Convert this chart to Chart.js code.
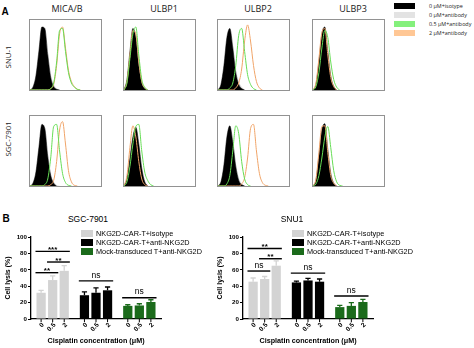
<!DOCTYPE html>
<html>
<head>
<meta charset="utf-8">
<script src="https://cdn.jsdelivr.net/npm/chart.js@4.4.1/dist/chart.umd.min.js"></script>
<style>
  body { margin: 0; background: #fff; }
  #fig { position: relative; width: 474px; height: 348px; overflow: hidden; background: #fff;
         font-family: "Liberation Sans", Arial, sans-serif; color: #000; }
  .t { position: absolute; white-space: nowrap; transform: translate(-50%, -50%); line-height: 1; }
  .rot { transform: translate(-50%, -50%) rotate(-90deg); }
  .box { position: absolute; border: 1px solid #929292; box-sizing: border-box; }
  .box canvas { display: block; }
  .sw { position: absolute; }
  .lg { position: absolute; white-space: nowrap; line-height: 1; transform: translateY(-50%); }
</style>
</head>
<body>
<div id="fig"></div>
<script>
// ---- panel A: flow histograms (height in % of box, one value per bin) ----
const markers = ['MICA/B', 'ULBP1', 'ULBP2', 'ULBP3'];
const cellLines = ['SNU-1', 'SGC-7901'];
const histLabels = ['0 \u03BCM+isotype', '0 \u03BCM+antibody', '0.5 \u03BCM+antibody', '2 \u03BCM+antibody'];
const bins = Array.from({ length: 25 }, (_, i) => i);

// each: [isotype, 0 uM antibody, 0.5 uM antibody, 2 uM antibody]
const snuMICAB = [
  [0, 4, 20, 55, 90, 88, 50, 18, 5, 1, 0],
  [0, 5, 22, 58, 88, 86, 55, 22, 8, 2, 0],
  [0, 0, 0, 0, 0, 0, 0, 2, 10, 40, 85, 88, 55, 25, 10, 4, 1, 0],
  [0, 0, 0, 0, 0, 0, 0, 2, 8, 35, 80, 90, 60, 28, 12, 5, 1, 0]
];
const snuULBP1 = [
  [0, 15, 55, 88, 75, 35, 10, 2, 0],
  [0, 15, 52, 85, 78, 40, 12, 3, 0],
  [0, 10, 45, 80, 90, 50, 15, 4, 0],
  [0, 12, 50, 85, 80, 40, 12, 3, 0]
];
const snuULBP2 = [
  [0, 8, 35, 75, 88, 60, 25, 8, 2, 0],
  [0, 8, 32, 70, 86, 65, 30, 12, 4, 0],
  [0, 0, 0, 0, 3, 10, 35, 78, 88, 55, 22, 8, 2, 0],
  [0, 0, 0, 0, 0, 0, 3, 10, 30, 70, 93, 70, 35, 12, 3, 0]
];
const snuULBP3 = [
  [0, 8, 40, 80, 90, 55, 20, 5, 0],
  [0, 8, 38, 78, 88, 58, 22, 6, 0],
  [0, 5, 25, 60, 85, 75, 40, 15, 4, 0],
  [0, 10, 45, 82, 88, 50, 18, 5, 0]
];
const sgcMICAB = [
  [0, 4, 20, 55, 88, 82, 42, 15, 4, 0],
  [0, 4, 18, 52, 85, 84, 48, 18, 6, 1, 0],
  [0, 0, 0, 0, 0, 2, 10, 40, 85, 88, 50, 18, 5, 1, 0],
  [0, 0, 0, 0, 0, 0, 0, 2, 8, 35, 80, 92, 60, 22, 6, 1, 0]
];
const sgcULBP1 = [
  [0, 10, 40, 70, 84, 60, 25, 6, 0],
  [0, 10, 38, 68, 82, 62, 28, 8, 0],
  [0, 6, 28, 60, 85, 88, 50, 20, 8, 2, 0],
  [0, 15, 55, 86, 70, 35, 10, 2, 0]
];
const sgcULBP2 = [
  [0, 6, 30, 70, 86, 62, 28, 8, 2, 0],
  [0, 6, 28, 66, 84, 66, 32, 12, 3, 0],
  [0, 0, 0, 3, 15, 50, 86, 75, 35, 10, 2, 0],
  [0, 0, 0, 0, 0, 0, 0, 0, 3, 12, 40, 82, 88, 50, 18, 5, 1, 0]
];
const sgcULBP3 = [
  [0, 8, 42, 80, 89, 52, 18, 4, 0],
  [0, 8, 40, 78, 86, 55, 20, 5, 0],
  [0, 3, 15, 40, 70, 85, 55, 22, 6, 1, 0],
  [0, 10, 48, 85, 86, 48, 15, 4, 0]
];

// ---- panel B: cell lysis (%) ----
const doses = ['0', '0.5', '2'];
const effectors = ['NKG2D-CAR-T+isotype', 'NKG2D-CAR-T+anti-NKG2D', 'Mock-transduced T+anti-NKG2D'];
const sgcLysis = [[32, 47.5, 58.7], [29, 32, 35], [16, 16.5, 20.7]];
const sgcErr   = [[3, 5, 6.3], [4, 6, 4], [1.4, 2.1, 2.8]];
const snuLysis = [[45.5, 48.8, 65], [44.6, 47, 45.5], [14.5, 16, 20.7]];
const snuErr   = [[4.5, 3, 6], [1.5, 2.6, 3.3], [2, 4, 3.3]];
// [from bar, to bar, height (%), label]; bars counted left to right
const sgcSig = [[0, 2, 82.5, '***'], [0, 1, 56.5, '**'], [1, 2, 69.5, '**'], [3, 5, 46.5, 'ns'], [6, 8, 26, 'ns']];
const snuSig = [[0, 2, 86, '**'], [1, 2, 73.5, '**'], [0, 1, 58.5, 'ns'], [3, 5, 56, 'ns'], [6, 8, 28, 'ns']];

const histFill = ['#000000', '#dcdcdc'];
const histLine = ['#66dd55', '#f0a468'];
const histSwatch = ['#000000', '#e3e3e3', '#84f07c', '#ffc795'];
const barColors = ['#d3d3d3', '#000000', '#1b6b1b'];

const fig = document.getElementById('fig');

function addText(txt, x, y, css, cls) {
  const d = document.createElement('div');
  d.className = cls || 't';
  d.textContent = txt;
  d.style.left = x + 'px';
  d.style.top = y + 'px';
  Object.assign(d.style, css || {});
  fig.appendChild(d);
  return d;
}

function addSwatch(x, y, w, h, color) {
  const d = document.createElement('div');
  d.className = 'sw';
  Object.assign(d.style, { left: x + 'px', top: (y - h / 2) + 'px', width: w + 'px', height: h + 'px', background: color });
  fig.appendChild(d);
}

// ---------- panel A ----------
addText('A', 5, 11, { font: 'bold 10px "Liberation Sans"' });
const colX = [29, 123, 217, 312];
const rowY = [19, 115];
const titleX = [67, 164, 258, 353];
markers.forEach((m, i) => addText(m, titleX[i], 8, { font: '9px "Open Sans"', color: '#1a1a1a' }));
addText(cellLines[0], 8, 57, { font: '7.8px "Open Sans"', color: '#1a1a1a' }, 't rot');
addText(cellLines[1], 8, 139, { font: '7.8px "Open Sans"', color: '#1a1a1a' }, 't rot');

histLabels.forEach((l, i) => {
  const yy = 5.5 + i * 9.3;
  addSwatch(394, yy, 21, 6, histSwatch[i]);
  addText(l, 429, yy, { font: '5.4px "Open Sans"', color: '#222' }, 'lg');
});

const histPanels = [
  [snuMICAB, snuULBP1, snuULBP2, snuULBP3],
  [sgcMICAB, sgcULBP1, sgcULBP2, sgcULBP3]
];

histPanels.forEach((row, r) => row.forEach((curves, c) => {
  const box = document.createElement('div');
  box.className = 'box';
  Object.assign(box.style, { left: colX[c] + 'px', top: rowY[r] + 'px', width: '73px', height: '72px' });
  const cv = document.createElement('canvas');
  cv.width = 71; cv.height = 70;
  box.appendChild(cv);
  fig.appendChild(box);

  new Chart(cv.getContext('2d'), {
    type: 'line',
    data: {
      labels: bins,
      datasets: [
        { data: curves[0], fill: 'origin', backgroundColor: histFill[0], borderColor: histFill[0], borderWidth: 0.5, order: 2 },
        { data: curves[1], fill: 'origin', backgroundColor: histFill[1], borderColor: histFill[1], borderWidth: 0.5, order: 3 },
        { data: curves[2], fill: false, borderColor: histLine[0], borderWidth: 1, order: 0 },
        { data: curves[3], fill: false, borderColor: histLine[1], borderWidth: 1, order: 1 }
      ]
    },
    options: {
      responsive: false,
      animation: false,
      events: [],
      layout: { padding: 0 },
      elements: { point: { radius: 0 }, line: { cubicInterpolationMode: 'monotone' } },
      plugins: { legend: { display: false }, tooltip: { enabled: false } },
      scales: {
        x: { type: 'category', display: false, offset: false },
        y: { display: false, min: 0, max: 100 }
      }
    }
  });
}));

// ---------- panel B ----------
addText('B', 6, 218, { font: 'bold 10px "Liberation Sans"' });

// error bars, bar ticks/labels and significance brackets
const barExtras = {
  id: 'barExtras',
  afterDatasetsDraw(chart, args, opts) {
    const ctx = chart.ctx, ys = chart.scales.y, area = chart.chartArea;
    const bar = k => chart.getDatasetMeta(k % 3).data[Math.floor(k / 3)];
    ctx.save();
    opts.err.forEach((g, gi) => g.forEach((e, di) => {
      const el = chart.getDatasetMeta(di).data[gi];
      const top = ys.getPixelForValue(opts.lysis[gi][di] + e);
      ctx.strokeStyle = barColors[gi];
      ctx.lineWidth = 1.3;
      ctx.beginPath();
      ctx.moveTo(el.x, el.y);
      ctx.lineTo(el.x, top);
      ctx.moveTo(el.x - 2.6, top);
      ctx.lineTo(el.x + 2.6, top);
      ctx.stroke();
    }));

    ctx.strokeStyle = '#000';
    ctx.fillStyle = '#000';
    ctx.lineWidth = 1;
    ctx.font = 'bold 6.5px "Liberation Sans"';
    doses.forEach((d, di) => chart.getDatasetMeta(di).data.forEach(el => {
      ctx.beginPath();
      ctx.moveTo(el.x, area.bottom);
      ctx.lineTo(el.x, area.bottom + 3);
      ctx.stroke();
      ctx.save();
      ctx.translate(el.x + 2, area.bottom + 5);
      ctx.rotate(-Math.PI / 4);
      ctx.textAlign = 'right';
      ctx.textBaseline = 'middle';
      ctx.fillText(d, 0, 0);
      ctx.restore();
    }));

    ctx.lineWidth = 1.4;
    ctx.textAlign = 'center';
    ctx.textBaseline = 'alphabetic';
    opts.sig.forEach(([a, b, v, txt]) => {
      const ea = bar(a), eb = bar(b);
      const x1 = ea.x - ea.width / 2 - 1, x2 = eb.x + eb.width / 2 + 1;
      const yy = ys.getPixelForValue(v);
      ctx.beginPath();
      ctx.moveTo(x1, yy);
      ctx.lineTo(x2, yy);
      ctx.stroke();
      if (txt === 'ns') {
        ctx.font = '8.5px "Liberation Sans"';
        ctx.fillText(txt, (x1 + x2) / 2, yy - 3.2);
      } else {
        ctx.font = 'bold 8px "Liberation Sans"';
        ctx.fillText(txt, (x1 + x2) / 2, yy + 0.5);
      }
    });
    ctx.restore();
  }
};

function lysisChart(left, title, titleX, legendX, lysis, err, sig) {
  const cv = document.createElement('canvas');
  cv.width = 165; cv.height = 118;
  Object.assign(cv.style, { position: 'absolute', left: left + 'px', top: '230px' });
  fig.appendChild(cv);

  addText(title, titleX, 219, { font: '8.5px "Liberation Sans"' });
  effectors.forEach((e, i) => {
    const yy = 233 + i * 9;
    addSwatch(legendX, yy, 12, 7, barColors[i]);
    addText(e, legendX + 15, yy, { font: '7.3px "Liberation Sans"' }, 'lg');
  });

  new Chart(cv.getContext('2d'), {
    type: 'bar',
    data: {
      labels: effectors,
      datasets: doses.map((d, j) => ({
        label: d,
        data: lysis.map(g => g[j]),
        backgroundColor: barColors,
        borderWidth: 0
      }))
    },
    options: {
      responsive: false,
      animation: false,
      events: [],
      layout: { padding: { top: 7, right: 4, left: 0, bottom: 0 } },
      categoryPercentage: 0.8,
      barPercentage: 0.8,
      plugins: {
        legend: { display: false },
        tooltip: { enabled: false },
        barExtras: { lysis, err, sig }
      },
      scales: {
        x: {
          grid: { display: false },
          border: { display: true, color: '#000', width: 1.3 },
          ticks: { display: false },
          title: { display: true, text: 'Cisplatin concentration (\u03BCM)', color: '#000',
                   font: { family: 'Liberation Sans', size: 7.2, weight: 'bold' }, padding: { top: 0, bottom: 3 } },
          afterFit(s) { s.height = 29; }
        },
        y: {
          min: 0, max: 100,
          grid: { drawOnChartArea: false, drawTicks: true, tickLength: 3, color: '#000', lineWidth: 1 },
          border: { display: true, color: '#000', width: 1.3 },
          ticks: { stepSize: 20, color: '#000', padding: 1, font: { family: 'Liberation Sans', size: 6.2, weight: 'bold' } },
          title: { display: true, text: 'Cell lysis (%)', color: '#000',
                   font: { family: 'Liberation Sans', size: 7, weight: 'bold' }, padding: { top: 4, bottom: 0 } },
          afterFit(s) { s.width = 31; }
        }
      }
    },
    plugins: [barExtras]
  });
}

lysisChart(0, 'SGC-7901', 88, 81, sgcLysis, sgcErr, sgcSig);
lysisChart(212, 'SNU1', 292, 292, snuLysis, snuErr, snuSig);
</script>
</body>
</html>
